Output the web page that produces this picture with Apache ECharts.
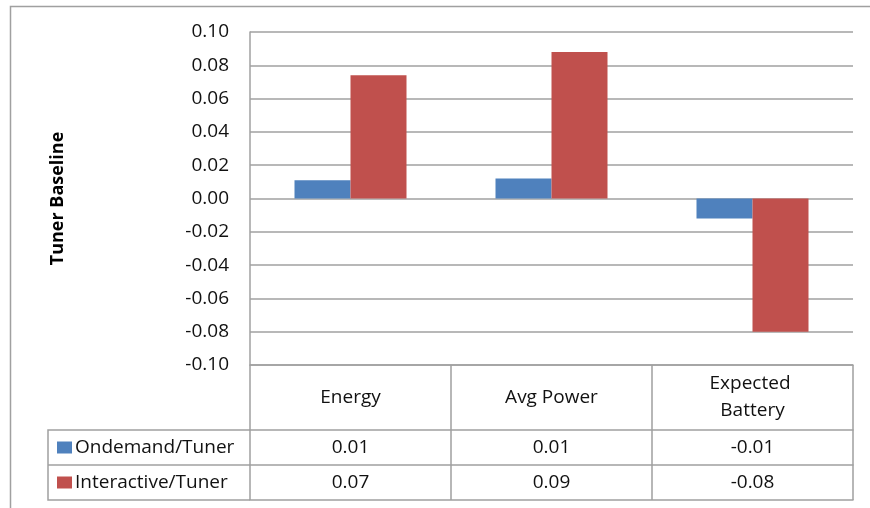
<!DOCTYPE html>
<html>
<head>
<meta charset="utf-8">
<script src="https://cdn.jsdelivr.net/npm/echarts@6/dist/echarts.min.js"></script>
<style>
  html, body { margin: 0; padding: 0; background: #fff; }
  #chart { width: 870px; height: 508px; }
</style>
</head>
<body>
<div id="chart"></div>
<script>
// Chart data
const categories = ['Energy', 'Avg Power', 'Expected Battery'];
const seriesNames = ['Ondemand/Tuner', 'Interactive/Tuner'];
const ondemand = [0.011, 0.012, -0.012];
const interactive = [0.074, 0.088, -0.080];
const yMin = -0.1, yMax = 0.1, yStep = 0.02;
const yTitle = 'Tuner Baseline';

// Layout
const FONT = '"Open Sans", Lato, sans-serif';
const FS = 19;
const TEXT = '#111';
const LINE = '#a0a0a0';
const plot = { left: 250, top: 32, right: 853, bottom: 365 };
const headerH = 65, rowH = 35;
const legendLeft = 48;
const W = 870, H = 508;

const chart = echarts.init(document.getElementById('chart'), null, { renderer: 'canvas' });

const fmt = v => v.toFixed(2);

function tableAxis(offset, height, labels, labelExtra) {
  return {
    type: 'category',
    gridIndex: 0,
    position: 'bottom',
    offset: offset,
    data: categories,
    boundaryGap: true,
    axisLine: { show: true, onZero: false, lineStyle: { color: LINE, width: 1.5 } },
    axisTick: { show: height > 0, length: height, interval: 0, lineStyle: { color: LINE, width: 1.5 } },
    axisLabel: Object.assign({
      show: !!labels,
      interval: 0,
      margin: height / 2,
      verticalAlign: 'middle',
      fontFamily: FONT,
      fontSize: FS,
      color: TEXT,
      formatter: labels ? (v, i) => labels(v, i) : undefined
    }, labelExtra || {}),
    splitLine: { show: false }
  };
}

const tableBottom = plot.bottom + headerH + 2 * rowH;

const option = {
  animation: false,
  backgroundColor: '#fff',
  color: ['#4F81BD', '#C0504D'],
  grid: {
    left: plot.left,
    top: plot.top,
    width: plot.right - plot.left,
    height: plot.bottom - plot.top,
    containLabel: false
  },
  legend: {
    orient: 'vertical',
    left: legendLeft + 9,
    top: plot.bottom + headerH + rowH / 2 - 11,
    padding: 0,
    itemWidth: 15,
    itemHeight: 12,
    itemGap: rowH - 22,
    selectedMode: false,
    icon: 'rect',
    data: seriesNames,
    textStyle: { fontFamily: FONT, fontSize: FS, color: TEXT, lineHeight: 22, padding: [0, 0, 0, -2] }
  },
  xAxis: [
    tableAxis(0, headerH, v => v, { width: 130, overflow: 'break', lineHeight: 27 }),
    tableAxis(headerH, rowH, (v, i) => fmt(ondemand[i])),
    tableAxis(headerH + rowH, rowH, (v, i) => fmt(interactive[i])),
    tableAxis(headerH + 2 * rowH, 0, null)
  ],
  yAxis: {
    type: 'value',
    min: yMin,
    max: yMax,
    interval: yStep,
    name: yTitle,
    nameLocation: 'middle',
    nameRotate: 90,
    nameGap: 183,
    nameTextStyle: { fontFamily: FONT, fontSize: 18, fontWeight: 'bold', color: '#000' },
    axisLine: { show: true, lineStyle: { color: LINE, width: 1.5 } },
    axisTick: { show: false },
    axisLabel: {
      margin: 21,
      fontFamily: FONT,
      fontSize: FS,
      color: TEXT,
      formatter: v => v.toFixed(2)
    },
    splitLine: { show: true, lineStyle: { color: LINE, width: 1.5 } }
  },
  series: [
    { name: seriesNames[0], type: 'bar', data: ondemand, barWidth: 56, barGap: '0%', xAxisIndex: 0 },
    { name: seriesNames[1], type: 'bar', data: interactive, barWidth: 56, barGap: '0%', xAxisIndex: 0 }
  ],
  graphic: [
    // chart frame
    { type: 'rect', silent: true, z: -1,
      shape: { x: 10.5, y: 6.5, width: W, height: H },
      style: { fill: null, stroke: LINE, lineWidth: 1.5 } },
    // legend column of the data table
    { type: 'polyline', silent: true,
      shape: { points: [[plot.left, plot.bottom + headerH], [legendLeft, plot.bottom + headerH],
                        [legendLeft, tableBottom], [plot.left, tableBottom]] },
      style: { fill: null, stroke: LINE, lineWidth: 1.5 } },
    { type: 'line', silent: true,
      shape: { x1: legendLeft, y1: plot.bottom + headerH + rowH, x2: plot.left, y2: plot.bottom + headerH + rowH },
      style: { stroke: LINE, lineWidth: 1.5 } }
  ]
};

chart.setOption(option);
</script>
</body>
</html>
